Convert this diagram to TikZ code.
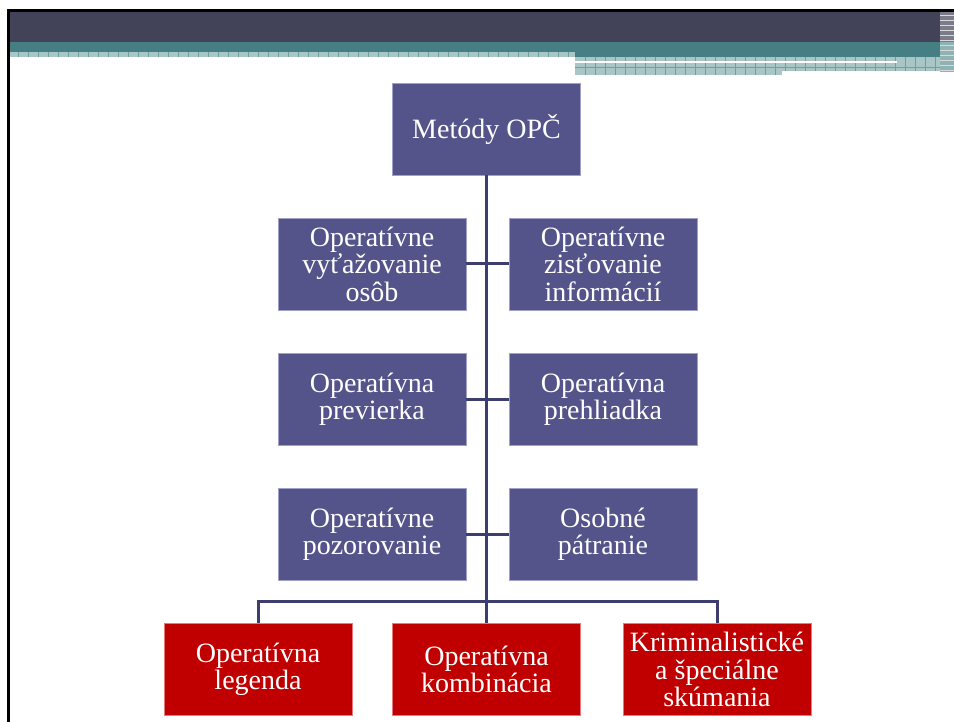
\documentclass[tikz,border=0pt]{standalone}
\usepackage{fontspec}
\setmainfont{Liberation Serif}
\definecolor{boxblue}{RGB}{84,84,138}
\definecolor{boxblueedge}{RGB}{160,160,200}
\definecolor{boxred}{RGB}{192,0,0}
\definecolor{boxrededge}{RGB}{230,120,120}
\definecolor{linecol}{RGB}{62,62,110}
\definecolor{darkband}{RGB}{66,66,88}
\definecolor{tealband}{RGB}{69,127,132}
\definecolor{hatch}{RGB}{168,198,198}
\definecolor{hatchline}{RGB}{110,160,160}
\begin{document}
\begin{tikzpicture}[x=1pt,y=-1pt,
  bluebox/.style={draw=boxblueedge,line width=0.8pt,fill=boxblue,text=white,
    minimum width=188pt,minimum height=92pt,inner sep=0pt,align=center,
    font=\fontsize{28}{27.5}\selectfont},
  redbox/.style={bluebox,fill=boxred,draw=boxrededge},
  conn/.style={draw=linecol,line width=3pt}]
\useasboundingbox (0,0) rectangle (954,722);
\fill[white] (0,0) rectangle (954,722);
% header
\fill[black] (8,9) rectangle (954,12);
\fill[darkband] (8,12) rectangle (940,42);
\fill[tealband] (8,42) rectangle (940,52);
\fill[tealband] (575,52) rectangle (940,57);
\fill[hatch] (8,52) rectangle (575,57);
\fill[hatch] (575,57) rectangle (940,75);
\foreach \x in {18,28,...,570} {\draw[hatchline,line width=0.5pt] (\x,52) -- (\x,57);}
\foreach \x in {585,595,...,935} {\draw[hatchline,line width=0.5pt] (\x,57) -- (\x,75);}
\draw[hatchline,line width=0.5pt] (575,67) -- (940,67);
\fill[white] (575,61) rectangle (897,63.5);
\fill[white] (782,71) rectangle (940,75);
\fill[darkband!70] (940,12) rectangle (954,42);
\fill[tealband!60] (940,42) rectangle (954,72);
\foreach \y in {15,20,...,70} {\draw[white!70!gray,line width=0.5pt] (940,\y) -- (954,\y);}
\fill[black] (6.5,9) rectangle (9.5,722);
% nodes
\node[bluebox] (top) at (486.5,129) {Metódy OPČ};
\node[bluebox] (l1) at (372,264) {Operatívne\\vyťažovanie\\osôb};
\node[bluebox] (r1) at (603,264) {Operatívne\\zisťovanie\\informácií};
\node[bluebox] (l2) at (372,399) {Operatívna\\previerka};
\node[bluebox] (r2) at (603,399) {Operatívna\\prehliadka};
\node[bluebox] (l3) at (372,534) {Operatívne\\pozorovanie};
\node[bluebox] (r3) at (603,534) {Osobné\\pátranie};
\node[redbox] (b1) at (258,669.5) {Operatívna\\legenda};
\node[redbox] (b2) at (486.5,669.5) {Operatívna\\kombinácia};
\node[redbox] (b3) at (717,669.5) {Kriminalistické\\a špeciálne\\skúmania};
% connectors
\coordinate (bus) at (486.5,601);
\draw[conn] (top.south) -- (b2.north);
\draw[conn] (l1.east) -- (r1.west);
\draw[conn] (l2.east) -- (r2.west);
\draw[conn] (l3.east) -- (r3.west);
\draw[conn] (b1.north) |- (bus) -| (b3.north);
\end{tikzpicture}
\end{document}
